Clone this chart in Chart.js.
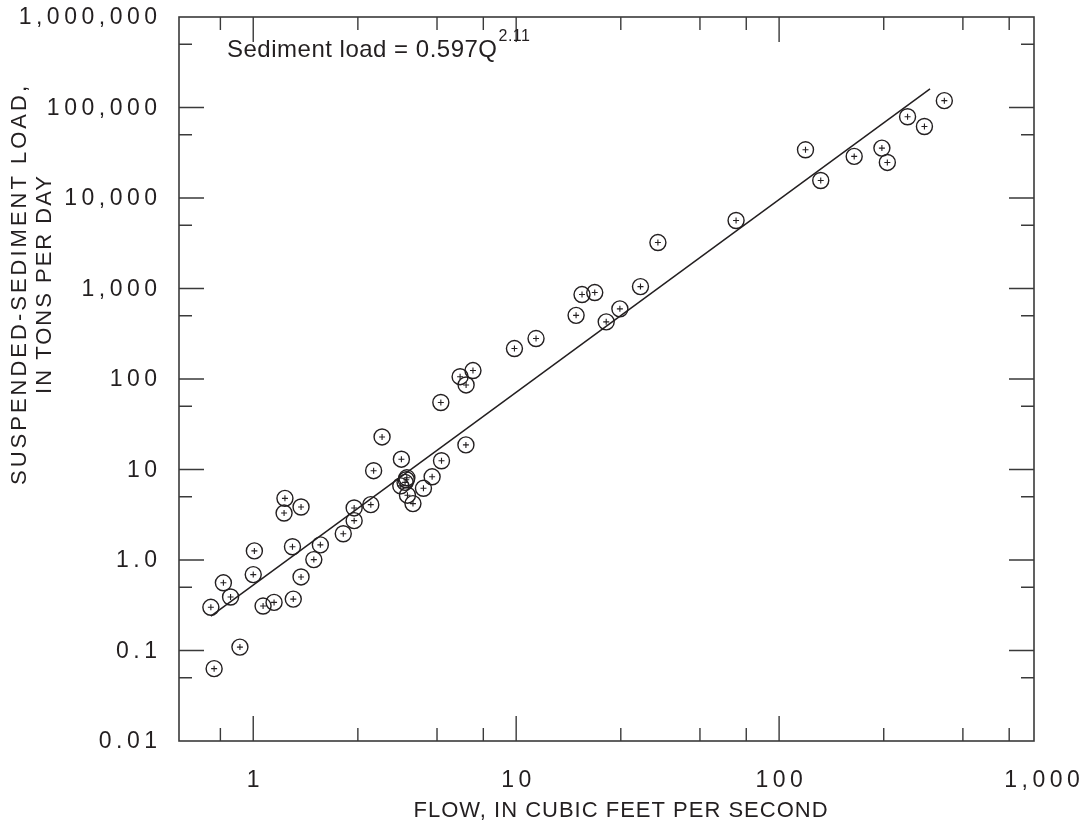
<!DOCTYPE html>
<html>
<head>
<meta charset="utf-8">
<script src="https://cdn.jsdelivr.net/npm/chart.js@4.4.1/dist/chart.umd.min.js"></script>
<style>
  html, body { margin: 0; padding: 0; background: #ffffff; }
  #wrap { width: 1082px; height: 821px; position: relative; }
</style>
</head>
<body>
<div id="wrap"><canvas id="chart"></canvas></div>
<script>
// measured samples: flow (cfs) and suspended-sediment load (tons/day)
const flowCfs = [0.71, 0.69, 0.77, 0.82, 0.89, 1.01, 1.0, 1.09, 1.2, 1.32,
  1.31, 1.52, 1.41, 1.42, 1.52, 1.7, 1.8, 2.2, 2.42, 2.42,
  2.8, 2.87, 3.09, 3.66, 3.84, 3.82, 3.78, 3.64, 3.86, 4.05,
  4.44, 4.79, 5.2, 5.17, 6.44, 6.12, 6.45, 6.85, 9.85, 11.9,
  16.9, 17.8, 19.9, 22.0, 24.8, 29.7, 34.6, 68.6, 126, 144,
  193, 246, 258, 308, 357, 425]
const sedimentLoad = [0.063, 0.30, 0.56, 0.39, 0.109, 1.26, 0.69, 0.31, 0.34, 4.8,
  3.3, 3.85, 1.4, 0.37, 0.65, 1.01, 1.47, 1.95, 2.72, 3.76,
  4.09, 9.7, 22.9, 13.0, 8.1, 7.7, 7.2, 6.6, 5.2, 4.2,
  6.2, 8.3, 12.5, 55, 18.7, 106, 86, 124, 217, 280,
  505, 857, 902, 428, 596, 1050, 3220, 5640, 34100, 15600,
  28800, 35600, 24700, 79000, 61700, 119000]

// regression line end points as drawn
const fitFlow = [0.69, 375]
const fitLoad = [0.24, 161000]

// ticks
const xTickValues = [1, 10, 100, 1000]
const xTickLabels = ["1", "10", "100", "1,000"]
const xMinorTicks = [0.75, 2.5, 5, 7.5, 25, 50, 75, 250, 500, 750]
const yTickValues = [0.01, 0.1, 1, 10, 100, 1000, 10000, 100000, 1000000]
const yTickLabels = ["0.01", "0.1", "1.0", "10", "100", "1,000", "10,000", "100,000", "1,000,000"]
const yMinorTicks = [0.05, 0.5, 5, 50, 500, 5000, 50000, 500000]

const ink = "#231f20"
const fontFamily = "Arial, 'Liberation Sans', Helvetica, sans-serif"

const points = flowCfs.map((x, i) => ({ x: x, y: sedimentLoad[i] }))
const fitPoints = fitFlow.map((x, i) => ({ x: x, y: fitLoad[i] }))

// frame, inward ticks and all the text
const framePlugin = {
  id: "frame",
  afterDraw(chart) {
    const ctx = chart.ctx
    const a = chart.chartArea
    const xs = chart.scales.x
    const ys = chart.scales.y
    ctx.save()
    ctx.strokeStyle = "#3a3a3a"
    ctx.lineWidth = 1.6
    ctx.strokeRect(a.left, a.top, a.right - a.left, a.bottom - a.top)

    const longT = 25, shortT = 13
    const xTick = (v, len) => {
      const px = xs.getPixelForValue(v)
      if (px <= a.left || px >= a.right) return
      ctx.beginPath()
      ctx.moveTo(px, a.bottom); ctx.lineTo(px, a.bottom - len)
      ctx.moveTo(px, a.top); ctx.lineTo(px, a.top + len)
      ctx.stroke()
    }
    const yTick = (v, len) => {
      const py = ys.getPixelForValue(v)
      if (py <= a.top || py >= a.bottom) return
      ctx.beginPath()
      ctx.moveTo(a.left, py); ctx.lineTo(a.left + len, py)
      ctx.moveTo(a.right, py); ctx.lineTo(a.right - len, py)
      ctx.stroke()
    }
    ctx.lineWidth = 1.4
    xTickValues.forEach(v => xTick(v, longT))
    xMinorTicks.forEach(v => xTick(v, shortT))
    yTickValues.forEach(v => yTick(v, longT))
    yMinorTicks.forEach(v => yTick(v, shortT))

    ctx.fillStyle = ink
    const sp = 4.5

    // y tick labels
    ctx.font = "23px " + fontFamily
    ctx.letterSpacing = sp + "px"
    ctx.textAlign = "right"
    ctx.textBaseline = "middle"
    yTickValues.forEach((v, i) => {
      ctx.fillText(yTickLabels[i], a.left - 22 + sp, ys.getPixelForValue(v) + 1)
    })

    // x tick labels (1,000 sits past the frame edge)
    ctx.textAlign = "center"
    xTickValues.forEach((v, i) => {
      ctx.fillText(xTickLabels[i], xs.getPixelForValue(v) + sp / 2, a.bottom + 40)
    })

    // x axis title
    ctx.font = "22px " + fontFamily
    ctx.letterSpacing = "1px"
    ctx.fillText("FLOW, IN CUBIC FEET PER SECOND", 621, a.bottom + 70)

    // y axis title
    ctx.save()
    ctx.translate(20, 284)
    ctx.rotate(-Math.PI / 2)
    ctx.letterSpacing = "3px"
    ctx.fillText("SUSPENDED-SEDIMENT LOAD,", 0, 0)
    ctx.letterSpacing = "2px"
    ctx.fillText("IN TONS PER DAY", 0, 25)
    ctx.restore()

    // equation
    ctx.letterSpacing = "0.5px"
    ctx.textAlign = "left"
    ctx.textBaseline = "alphabetic"
    ctx.font = "24px " + fontFamily
    const eq = "Sediment load = 0.597Q"
    const ex = a.left + 48, ey = a.top + 40
    ctx.fillText(eq, ex, ey)
    const w = ctx.measureText(eq).width
    ctx.font = "16px " + fontFamily
    ctx.fillText("2.11", ex + w + 1, ey - 16)
    ctx.restore()
  }
}

new Chart(document.getElementById("chart"), {
  type: "scatter",
  data: {
    datasets: [
      {
        data: fitPoints,
        showLine: true,
        borderColor: ink,
        borderWidth: 1.5,
        pointRadius: 0,
        fill: false
      },
      {
        data: points,
        pointStyle: "circle",
        pointRadius: 8,
        pointBorderWidth: 1.4,
        pointBorderColor: ink,
        pointBackgroundColor: "rgba(0,0,0,0)"
      },
      {
        data: points,
        pointStyle: "cross",
        pointRadius: 3,
        pointBorderWidth: 1.1,
        pointBorderColor: ink
      }
    ]
  },
  options: {
    responsive: true,
    maintainAspectRatio: false,
    animation: false,
    layout: { padding: { top: 17, right: 48, left: 0, bottom: 0 } },
    plugins: {
      legend: { display: false },
      tooltip: { enabled: false }
    },
    scales: {
      x: {
        type: "logarithmic",
        min: 0.522,
        max: 932,
        grid: { display: false, drawTicks: false },
        border: { display: false },
        ticks: { display: false },
        afterFit: (scale) => { scale.height = 80 }
      },
      y: {
        type: "logarithmic",
        min: 0.01,
        max: 1000000,
        grid: { display: false, drawTicks: false },
        border: { display: false },
        ticks: { display: false },
        afterFit: (scale) => { scale.width = 179 }
      }
    }
  },
  plugins: [framePlugin]
})
</script>
</body>
</html>
